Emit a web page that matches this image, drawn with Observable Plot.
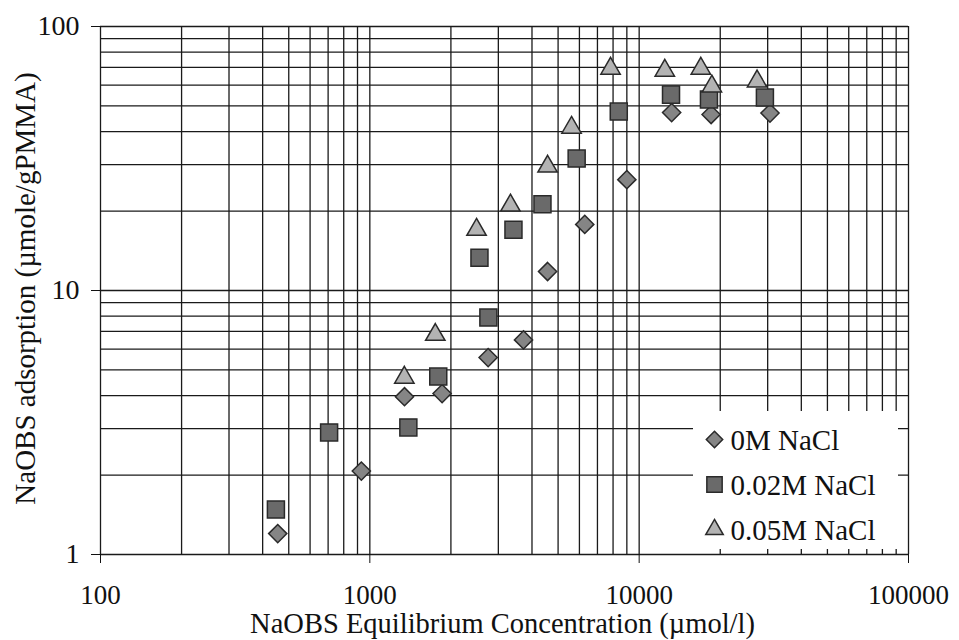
<!DOCTYPE html>
<html><head><meta charset="utf-8">
<script src="https://cdn.jsdelivr.net/npm/d3@7"></script>
<script src="https://cdn.jsdelivr.net/npm/@observablehq/plot@0.6"></script>
<style>
body{margin:0;background:#fff;}
svg, svg text { font-family: "Liberation Serif", "Times New Roman", Times, serif !important; }
</style>
</head><body><div id="chart"></div>
<script>
const series = ["0M NaCl", "0.02M NaCl", "0.05M NaCl"];
// 0M NaCl (diamonds)
const x0 = [455, 930, 1345, 1855, 2750, 3720, 4570, 6280, 9000, 13200, 18500, 30600];
const y0 = [1.2, 2.07, 3.96, 4.07, 5.57, 6.5, 11.8, 17.8, 26.3, 47.2, 46.4, 47];
// 0.02M NaCl (squares)
const x1 = [448, 706, 1390, 1795, 2755, 2553, 3414, 4375, 5860, 8400, 13130, 18160, 29300];
const y1 = [1.48, 2.9, 3.03, 4.72, 7.9, 13.3, 17.0, 21.2, 31.6, 47.6, 55.2, 52.9, 53.8];
// 0.05M NaCl (triangles)
const x2 = [1343, 1750, 2490, 3327, 4571, 5610, 7830, 12450, 16940, 18620, 27400];
const y2 = [4.68, 6.8, 17.0, 21.0, 29.5, 41.4, 69.3, 68.1, 69.3, 59.3, 62];

const xTicks = [100, 1000, 10000, 100000];
const yTicks = [1, 10, 100];
const xTitle = "NaOBS Equilibrium Concentration (\u00b5mol/l)";
const yTitle = "NaOBS adsorption (\u00b5mole/gPMMA)";

const xGrid = d3.scaleLog().domain([100, 100000]).ticks();
const yGrid = d3.scaleLog().domain([1, 100]).ticks();

const toRows = (xs, ys) => xs.map((x, i) => ({x, y: ys[i]}));
const d0 = toRows(x0, y0), d1 = toRows(x1, y1), d2 = toRows(x2, y2);

const symbols = ["diamond2", "square", "triangle"];
const fills = ["#858585", "#6a6a6a", "#b3b3b3"];
const radii = [8.2, 9.6, 7.2];
const strokeC = "#2a2a2a";

function legendBox(index, scales, values, dims) {
  const r = document.createElementNS("http://www.w3.org/2000/svg", "rect");
  const right = dims.width - dims.marginRight;
  const bottom = dims.height - dims.marginBottom;
  r.setAttribute("x", right - 215);
  r.setAttribute("width", 205);
  r.setAttribute("y", bottom - 143);
  r.setAttribute("height", 138);
  r.setAttribute("fill", "#fff");
  return r;
}

const rowsDy = [-115, -70, -25];
const legendMarks = series.flatMap((s, i) => [
  Plot.dot([s], {frameAnchor: "bottom-right", dx: -194, dy: rowsDy[i], symbol: symbols[i], r: radii[i] * 0.9, fill: fills[i], stroke: strokeC, strokeWidth: 1.5}),
  Plot.text([s], {frameAnchor: "bottom-right", lineAnchor: "middle", dx: -178, dy: rowsDy[i] + 1, text: d => d, textAnchor: "start", fontSize: 29, fill: "#111"})
]);

const chart = Plot.plot({
  width: 959,
  height: 640,
  marginLeft: 100,
  marginRight: 51,
  marginTop: 26,
  marginBottom: 86,
  style: {fontSize: "27px", color: "#111", background: "#fff"},
  x: {type: "log", domain: [100, 100000]},
  y: {type: "log", domain: [1, 100]},
  marks: [
    Plot.ruleX(xGrid, {stroke: "#1a1a1a", strokeWidth: 1.3}),
    Plot.ruleY(yGrid, {stroke: "#1a1a1a", strokeWidth: 1.3}),
    Plot.axisX({ticks: xTicks, tickFormat: d => String(d), tickSize: 9, tickPadding: 21, label: null, fontSize: 27}),
    Plot.axisY({ticks: yTicks, tickFormat: d => String(d), tickSize: 9, tickPadding: 12, label: null, fontSize: 28}),
    Plot.dot(d0, {x: "x", y: "y", symbol: symbols[0], r: radii[0], fill: fills[0], stroke: strokeC, strokeWidth: 1.5}),
    Plot.dot(d1, {x: "x", y: "y", symbol: symbols[1], r: radii[1], fill: fills[1], stroke: strokeC, strokeWidth: 1.5}),
    Plot.dot(d2, {x: "x", y: "y", symbol: symbols[2], r: radii[2], fill: fills[2], stroke: strokeC, strokeWidth: 1.5}),
    legendBox,
    ...legendMarks,
    Plot.text([xTitle], {frameAnchor: "bottom", lineAnchor: "middle", textAnchor: "middle", dx: -2, dy: 69, text: d => d, fontSize: 28.5, fill: "#111"}),
    Plot.text([yTitle], {frameAnchor: "left", lineAnchor: "middle", textAnchor: "middle", dx: -75, dy: -2, rotate: -90, text: d => d, fontSize: 29, fill: "#111"})
  ]
});
document.getElementById("chart").appendChild(chart);
</script>
</body></html>
